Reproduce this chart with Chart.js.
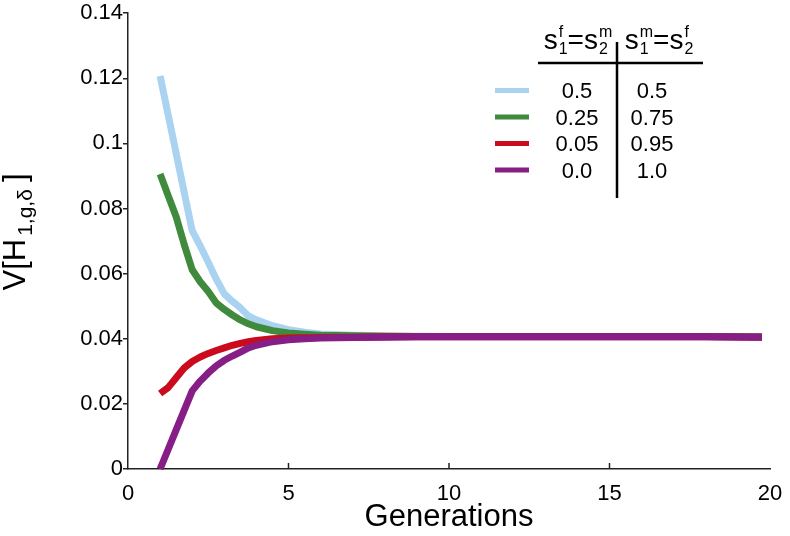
<!DOCTYPE html>
<html>
<head>
<meta charset="utf-8">
<script src="https://cdn.jsdelivr.net/npm/chart.js@4/dist/chart.umd.min.js"></script>
<style>
  html, body { margin: 0; padding: 0; background: #fff; }
  #wrap { width: 790px; height: 536px; }
</style>
</head>
<body>
<div id="wrap"><canvas id="chart" width="790" height="536"></canvas></div>
<script>
const generations = [1, 1.25, 1.5, 1.75, 2, 2.25, 2.5, 2.75, 3, 3.25, 3.5, 3.75, 4, 4.5, 5, 5.5, 6, 7, 8, 9, 10, 12, 14, 16, 18, 19.75];

const seriesBlue   = [0.1207, 0.1088, 0.0970, 0.0850, 0.0732, 0.0685, 0.0635, 0.0583, 0.0538, 0.0515, 0.0495, 0.0470, 0.0458, 0.0440, 0.0428, 0.0420, 0.0415, 0.0411, 0.0409, 0.0408, 0.0407, 0.0407, 0.0407, 0.0407, 0.0407, 0.0406];
const seriesGreen  = [0.0906, 0.0840, 0.0775, 0.0690, 0.0612, 0.0575, 0.0545, 0.0510, 0.0490, 0.0473, 0.0458, 0.0446, 0.0437, 0.0425, 0.0418, 0.0414, 0.0411, 0.0409, 0.0408, 0.0407, 0.0407, 0.0407, 0.0407, 0.0407, 0.0407, 0.0406];
const seriesRed    = [0.0232, 0.0250, 0.0280, 0.0310, 0.0330, 0.0344, 0.0355, 0.0364, 0.0372, 0.0380, 0.0386, 0.0391, 0.0395, 0.0400, 0.0402, 0.0403, 0.0404, 0.0405, 0.0406, 0.0406, 0.0406, 0.0406, 0.0406, 0.0406, 0.0406, 0.0405];
const seriesPurple = [0.0000, 0.0060, 0.0120, 0.0180, 0.0240, 0.0270, 0.0295, 0.0317, 0.0334, 0.0347, 0.0359, 0.0372, 0.0380, 0.0391, 0.0397, 0.0400, 0.0402, 0.0404, 0.0405, 0.0406, 0.0406, 0.0406, 0.0406, 0.0406, 0.0406, 0.0405];

const colFemale = ['0.5', '0.25', '0.05', '0.0'];
const colMale   = ['0.5', '0.75', '0.95', '1.0'];

const xTicks = [0, 5, 10, 15, 20];
const yTicks = [0, 0.02, 0.04, 0.06, 0.08, 0.1, 0.12, 0.14];

const colors = ['#a9d3f0', '#3f8a3c', '#cc0a1e', '#861e86'];
const FONT = '"Liberation Sans", Arial, Helvetica, sans-serif';

function points(ys) {
  return generations.map((g, i) => ({ x: g, y: ys[i] }));
}

function makeSet(ys, i) {
  return {
    data: points(ys),
    borderColor: colors[i],
    borderWidth: 7,
    borderCapStyle: 'butt',
    borderJoinStyle: 'round',
    pointRadius: 0,
    tension: 0,
    fill: false,
    clip: false,
    order: 3 - i
  };
}

// draws s with stacked super/subscript, returns new x
function sSymbol(ctx, x, y, sup, sub) {
  ctx.font = '28px ' + FONT;
  ctx.fillText('s', x, y);
  const w = ctx.measureText('s').width;
  ctx.font = '16px ' + FONT;
  ctx.fillText(sup, x + w + 1, y - 12);
  ctx.fillText(sub, x + w + 1, y + 5);
  return x + w + 1 + Math.max(ctx.measureText(sup).width, ctx.measureText(sub).width);
}

function header(ctx, cx, y, supA, subA, supB, subB) {
  ctx.font = '28px ' + FONT;
  const ws = ctx.measureText('s').width;
  const weq = ctx.measureText('=').width;
  ctx.font = '16px ' + FONT;
  const wa = Math.max(ctx.measureText(supA).width, ctx.measureText(subA).width);
  const wb = Math.max(ctx.measureText(supB).width, ctx.measureText(subB).width);
  const total = ws + 1 + wa + weq + ws + 1 + wb;
  let x = cx - total / 2;
  ctx.textAlign = 'left';
  x = sSymbol(ctx, x, y, supA, subA);
  ctx.font = '28px ' + FONT;
  ctx.fillText('=', x, y);
  x += weq;
  sSymbol(ctx, x, y, supB, subB);
}

const tablePlugin = {
  id: 'tablePlugin',
  afterDraw(chart) {
    const ctx = chart.ctx;
    const xs = chart.scales.x;
    const ys = chart.scales.y;
    ctx.save();
    ctx.fillStyle = '#000';
    ctx.textBaseline = 'alphabetic';

    // inward ticks on x axis
    ctx.strokeStyle = '#222';
    ctx.lineWidth = 1.5;
    [5, 10, 15].forEach(v => {
      const px = xs.getPixelForValue(v);
      ctx.beginPath();
      ctx.moveTo(px, ys.bottom);
      ctx.lineTo(px, ys.bottom - 6);
      ctx.stroke();
    });

    // y axis title
    ctx.save();
    ctx.translate(25, 232);
    ctx.rotate(-Math.PI / 2);
    ctx.textAlign = 'left';
    const partA = 'V[H';
    const sub = '1,g,\u03b4';
    ctx.font = '31px ' + FONT;
    const wA = ctx.measureText(partA).width;
    ctx.font = '21px ' + FONT;
    const wS = ctx.measureText(sub).width;
    ctx.font = '31px ' + FONT;
    const wC = ctx.measureText(']').width;
    let tx = -(wA + wS + 10 + wC) / 2;
    ctx.fillText(partA, tx, 0);
    tx += wA + 3;
    ctx.font = '21px ' + FONT;
    ctx.fillText(sub, tx, 7);
    tx += wS + 7;
    ctx.font = '31px ' + FONT;
    ctx.fillText(']', tx, 0);
    ctx.restore();

    // legend table
    ctx.strokeStyle = '#000';
    ctx.lineWidth = 2.5;
    ctx.beginPath();
    ctx.moveTo(538, 63);
    ctx.lineTo(703, 63);
    ctx.moveTo(617, 42);
    ctx.lineTo(617, 198);
    ctx.stroke();

    header(ctx, 578, 49, 'f', '1', 'm', '2');
    header(ctx, 659, 49, 'm', '1', 'f', '2');

    ctx.font = '22px ' + FONT;
    ctx.textAlign = 'center';
    colFemale.forEach((t, i) => {
      const y = 98 + i * 26.5;
      ctx.fillStyle = colors[i];
      ctx.fillRect(495, y - 10, 34, 5);
      ctx.fillStyle = '#000';
      ctx.fillText(t, 577, y);
      ctx.fillText(colMale[i], 652, y);
    });
    ctx.restore();
  }
};

new Chart(document.getElementById('chart'), {
  type: 'line',
  data: {
    datasets: [
      makeSet(seriesBlue, 0),
      makeSet(seriesGreen, 1),
      makeSet(seriesRed, 2),
      makeSet(seriesPurple, 3)
    ]
  },
  options: {
    responsive: false,
    animation: false,
    layout: { padding: { top: 12, right: 20, left: 0, bottom: 0 } },
    plugins: { legend: { display: false }, tooltip: { enabled: false } },
    scales: {
      x: {
        type: 'linear',
        min: 0,
        max: 20,
        afterBuildTicks(scale) { scale.ticks = xTicks.map(v => ({ value: v })); },
        afterFit(scale) { scale.height = 67; },
        grid: { display: false },
        border: { display: true, color: '#222', width: 1.5 },
        ticks: { color: '#000', font: { family: FONT, size: 22 }, padding: 4, maxRotation: 0 },
        title: {
          display: true,
          text: 'Generations',
          color: '#000',
          font: { family: FONT, size: 31 },
          padding: { top: 0, bottom: 0 }
        }
      },
      y: {
        min: 0,
        max: 0.14,
        afterBuildTicks(scale) { scale.ticks = yTicks.map(v => ({ value: v })); },
        afterFit(scale) { scale.width = 128; },
        grid: { display: true, drawOnChartArea: false, drawTicks: true, tickLength: 5, color: '#222', lineWidth: 1.5 },
        border: { display: true, color: '#222', width: 1.5 },
        ticks: {
          color: '#000',
          font: { family: FONT, size: 22 },
          padding: 0,
          callback: v => String(+v.toFixed(2))
        }
      }
    }
  },
  plugins: [tablePlugin]
});
</script>
</body>
</html>
